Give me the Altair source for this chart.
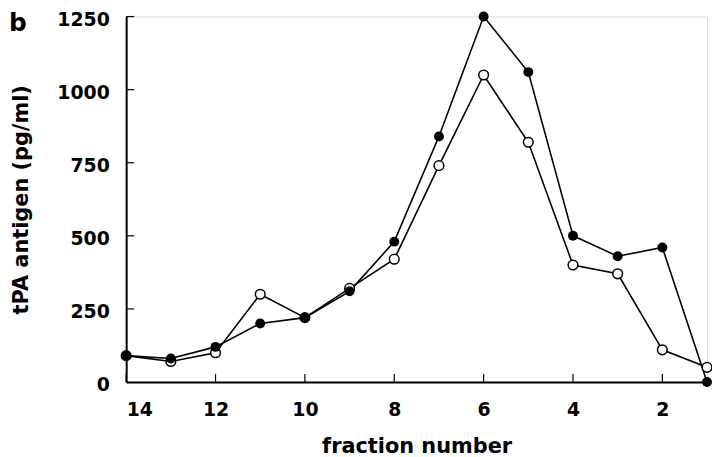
import altair as alt
import pandas as pd

fractions = [14, 13, 12, 11, 10, 9, 8, 7, 6, 5, 4, 3, 2, 1]
filled_vals = [90, 80, 120, 200, 220, 310, 480, 840, 1250, 1060, 500, 430, 460, 0]
open_vals = [90, 70, 100, 300, 220, 320, 420, 740, 1050, 820, 400, 370, 110, 50]
x_ticks = [14, 12, 10, 8, 6, 4, 2]
y_ticks = [250, 500, 750, 1000, 1250]
y_labels = [0, 250, 500, 750, 1000, 1250]

df = pd.DataFrame({
    "fraction": fractions * 2,
    "value": filled_vals + open_vals,
    "series": ["filled"] * len(fractions) + ["open"] * len(fractions),
})

W, H = 585, 368
TOP = 7
FONT = "DejaVu Sans"
TICK = 8

xs = alt.Scale(domain=[14, 1], nice=False, zero=False)
ys = alt.Scale(domain=[0, 1250], nice=False)

axis_common = dict(
    grid=False, ticks=False, format="d",
    domainColor="black", domainWidth=2,
    labelFont=FONT, labelFontWeight="bold", labelFontSize=19, labelColor="black",
    titleFont=FONT, titleFontWeight="bold", titleColor="black",
)

base = alt.Chart(df).encode(
    x=alt.X("fraction:Q", scale=xs,
            axis=alt.Axis(values=x_ticks, title="fraction number", titleFontSize=21,
                          labelPadding=19, titlePadding=16, **axis_common)),
    y=alt.Y("value:Q", scale=ys,
            axis=alt.Axis(values=y_labels, title="tPA antigen (pg/ml)", titleFontSize=21,
                          labelPadding=17, labelOffset=3, titlePadding=25, **axis_common)),
)

lines = base.mark_line(color="black", strokeWidth=1.6).encode(detail="series:N")
open_pts = base.transform_filter("datum.series == 'open'").mark_circle(
    fill="white", stroke="black", strokeWidth=1.5, size=95, opacity=1)
filled_pts = base.transform_filter("datum.series == 'filled'").mark_circle(
    color="black", size=100, opacity=1)

xtick_rules = alt.Chart(pd.DataFrame({"t": x_ticks})).mark_rule(
    color="black", strokeWidth=1.2
).encode(x=alt.X("t:Q", scale=xs), y=alt.value(H), y2=alt.value(H - TICK))

ytick_rules = alt.Chart(pd.DataFrame({"t": y_ticks})).mark_rule(
    color="black", strokeWidth=1.2
).encode(y=alt.Y("t:Q", scale=ys), x=alt.value(0), x2=alt.value(TICK))

label_b = alt.Chart(pd.DataFrame({"t": ["b"]})).mark_text(
    font=FONT, fontWeight="bold", fontSize=25, align="left", baseline="alphabetic", color="black"
).encode(text="t:N", x=alt.value(-118), y=alt.value(15))

chart = alt.layer(xtick_rules, ytick_rules, lines, open_pts, filled_pts, label_b).properties(
    width=W, height=H,
    autosize=alt.AutoSizeParams(type="none"),
    padding={"left": 119, "top": TOP, "right": 5, "bottom": 80},
).configure_view(stroke=None).configure(background="white")

chart.save("out.html", embed_options={"renderer": "svg", "actions": False})
